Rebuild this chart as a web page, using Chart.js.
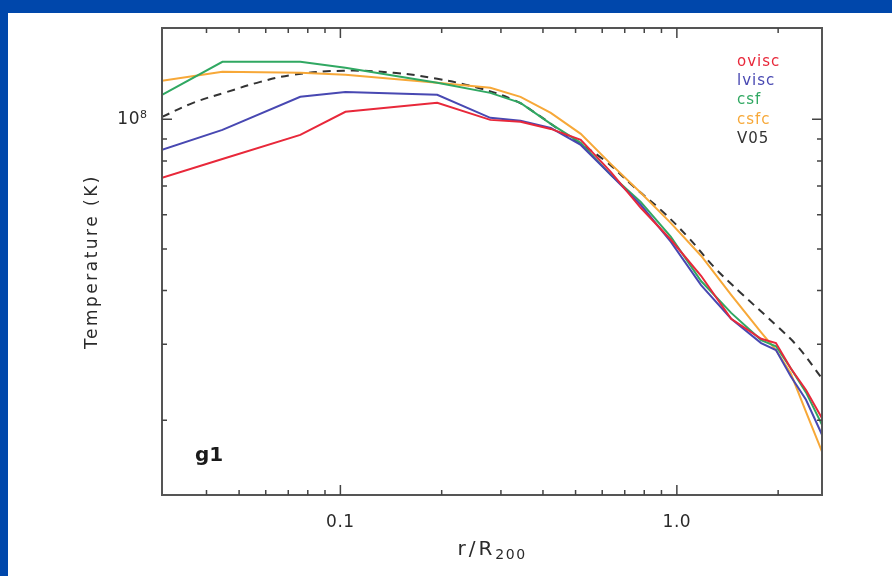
<!DOCTYPE html>
<html>
<head>
<meta charset="utf-8">
<script src="https://cdn.jsdelivr.net/npm/chart.js@4.4.0/dist/chart.umd.min.js"></script>
<style>
  html, body { margin: 0; padding: 0; background: #0047ab; width: 892px; height: 576px; overflow: hidden; }
  #panel { position: absolute; left: 8px; top: 13px; width: 884px; height: 563px; background: #fff; }
</style>
</head>
<body>
<div id="panel"><canvas id="myChart" width="884" height="563"></canvas></div>
<script>
// radius r/R200 shared by the simulation runs
const radius = [0.0295, 0.0446, 0.076, 0.1035, 0.194, 0.279, 0.343, 0.422, 0.518, 0.636,
                0.781, 0.96, 1.18, 1.45, 1.78, 1.97, 2.18, 2.42, 2.7];
// temperatures (K)
const tOvisc = [7.31e7, 8.09e7, 9.20e7, 1.041e8, 1.092e8, 9.97e7, 9.87e7, 9.50e7, 8.96e7, 7.55e7,
                6.23e7, 5.25e7, 4.33e7, 3.44e7, 3.09e7, 3.02e7, 2.64e7, 2.35e7, 2.02e7];
const tLvisc = [8.49e7, 9.45e7, 1.128e8, 1.158e8, 1.140e8, 1.008e8, 9.92e7, 9.55e7, 8.72e7, 7.43e7,
                6.33e7, 5.19e7, 4.12e7, 3.44e7, 3.02e7, 2.91e7, 2.53e7, 2.23e7, 1.85e7];
const tCsf   = [1.140e8, 1.36e8, 1.36e8, 1.318e8, 1.216e8, 1.152e8, 1.092e8, 9.76e7, 8.82e7, 7.43e7,
                6.43e7, 5.33e7, 4.21e7, 3.55e7, 3.07e7, 2.97e7, 2.64e7, 2.32e7, 1.95e7];
const tCsfc  = [1.229e8, 1.290e8, 1.283e8, 1.269e8, 1.216e8, 1.184e8, 1.128e8, 1.035e8, 9.25e7, 7.88e7,
                6.75e7, 5.74e7, 4.82e7, 3.91e7, 3.20e7, 2.91e7, 2.57e7, 2.09e7, 1.69e7];
// V05 fit (dashed)
const rV05 = [0.0295, 0.0365, 0.0461, 0.0578, 0.0724, 0.102, 0.144, 0.194, 0.256, 0.327, 0.368,
              0.461, 0.607, 0.745, 0.896, 1.078, 1.289, 1.549, 2.0, 2.29, 2.7];
const tV05 = [1.013e8, 1.092e8, 1.158e8, 1.222e8, 1.269e8, 1.297e8, 1.283e8, 1.242e8, 1.184e8, 1.110e8, 1.052e8,
              9.30e7, 8.05e7, 6.97e7, 6.16e7, 5.33e7, 4.54e7, 3.95e7, 3.29e7, 2.96e7, 2.50e7];

const seriesNames = ["ovisc", "lvisc", "csf", "csfc", "V05"];
const seriesColors = ["#e8283a", "#4848b2", "#30a862", "#f7a838", "#333333"];

// axis ticks
const xTickValues = [0.04, 0.05, 0.06, 0.07, 0.08, 0.09, 0.1, 0.2, 0.3, 0.4, 0.5, 0.6, 0.7, 0.8, 0.9, 1, 2];
const xLabelValues = [0.1, 1];
const xLabelText = ["0.1", "1.0"];
const yTickValues = [2e7, 3e7, 4e7, 5e7, 6e7, 7e7, 8e7, 9e7, 1e8];
const yLabelValues = [1e8];
const yLabelText = ["10"];
const yLabelExp = ["8"];

const FONT = "'DejaVu Sans', 'Liberation Sans', sans-serif";

function pts(xs, ys) {
  return xs.map((v, i) => ({ x: v, y: ys[i] }));
}

// frame, inward ticks, titles, legend, panel label
const decor = {
  id: "decor",
  beforeDraw(chart) {
    chart.ctx.letterSpacing = "0.5px";
  },
  afterDraw(chart) {
    const { ctx, chartArea: a, scales } = chart;
    const sx = scales.x, sy = scales.y;
    ctx.save();
    ctx.strokeStyle = "#555";
    ctx.lineWidth = 2;
    ctx.strokeRect(a.left, a.top, a.right - a.left, a.bottom - a.top);

    ctx.strokeStyle = "#444";
    ctx.lineWidth = 1.5;
    ctx.beginPath();
    sx.ticks.forEach(t => {
      const p = sx.getPixelForValue(t.value);
      const len = xLabelValues.includes(t.value) ? 10 : 5;
      ctx.moveTo(p, a.bottom); ctx.lineTo(p, a.bottom - len);
      ctx.moveTo(p, a.top); ctx.lineTo(p, a.top + len);
    });
    sy.ticks.forEach(t => {
      const p = sy.getPixelForValue(t.value);
      const len = yLabelValues.includes(t.value) ? 10 : 5;
      ctx.moveTo(a.left, p); ctx.lineTo(a.left + len, p);
      ctx.moveTo(a.right, p); ctx.lineTo(a.right - len, p);
    });
    ctx.stroke();

    ctx.fillStyle = "#2a2a2a";
    ctx.textAlign = "left";
    ctx.textBaseline = "alphabetic";

    // exponent of the 10^n label
    ctx.font = "11px " + FONT;
    ctx.letterSpacing = "0px";
    yLabelValues.forEach((v, i) => {
      ctx.fillText(yLabelExp[i], a.left - 22, sy.getPixelForValue(v) - 1);
    });

    // y title
    ctx.font = "17px " + FONT;
    ctx.letterSpacing = "2.5px";
    ctx.textAlign = "center";
    ctx.textBaseline = "middle";
    ctx.save();
    ctx.translate(85, (a.top + a.bottom) / 2);
    ctx.rotate(-Math.PI / 2);
    ctx.fillText("Temperature (K)", 0, 0);
    ctx.restore();

    // x title r/R200
    ctx.textAlign = "left";
    ctx.textBaseline = "alphabetic";
    ctx.font = "20px " + FONT;
    ctx.letterSpacing = "3px";
    const w1 = ctx.measureText("r/R").width;
    ctx.font = "14px " + FONT;
    ctx.letterSpacing = "1.5px";
    const w2 = ctx.measureText("200").width;
    const x0 = (a.left + a.right) / 2 - (w1 + w2) / 2;
    ctx.font = "20px " + FONT;
    ctx.letterSpacing = "3px";
    ctx.fillText("r/R", x0, 542);
    ctx.font = "14px " + FONT;
    ctx.letterSpacing = "1.5px";
    ctx.fillText("200", x0 + w1, 546);

    // legend as coloured text
    ctx.font = "15px " + FONT;
    ctx.letterSpacing = "1px";
    ctx.textBaseline = "middle";
    chart.data.datasets.forEach((ds, i) => {
      ctx.fillStyle = ds.borderColor;
      ctx.fillText(ds.label, a.right - 85, a.top + 34 + i * 19.3);
    });

    // panel label
    ctx.fillStyle = "#1a1a1a";
    ctx.font = "bold 20px " + FONT;
    ctx.letterSpacing = "0px";
    ctx.textBaseline = "alphabetic";
    ctx.fillText("g1", a.left + 33, a.bottom - 34);
    ctx.restore();
  }
};

let config = {
  type: "line",
  data: {
    datasets: [
      { label: seriesNames[0], data: pts(radius, tOvisc), borderColor: seriesColors[0], borderWidth: 2 },
      { label: seriesNames[1], data: pts(radius, tLvisc), borderColor: seriesColors[1], borderWidth: 2 },
      { label: seriesNames[2], data: pts(radius, tCsf), borderColor: seriesColors[2], borderWidth: 2 },
      { label: seriesNames[3], data: pts(radius, tCsfc), borderColor: seriesColors[3], borderWidth: 2 },
      { label: seriesNames[4], data: pts(rV05, tV05), borderColor: seriesColors[4], borderWidth: 2,
        borderDash: [8, 6], tension: 0.4 }
    ]
  },
  options: {
    responsive: false,
    animation: false,
    elements: { point: { radius: 0 }, line: { tension: 0 } },
    layout: { padding: { top: 15, right: 70, left: 0, bottom: 0 } },
    plugins: { legend: { display: false }, tooltip: { enabled: false } },
    scales: {
      x: {
        type: "logarithmic",
        min: 0.0295,
        max: 2.7,
        grid: { display: false },
        border: { display: false },
        afterBuildTicks: s => { s.ticks = xTickValues.map(v => ({ value: v })); },
        afterFit: s => { s.height = 81; s.paddingLeft = 0; s.paddingRight = 0; },
        ticks: {
          autoSkip: false,
          maxRotation: 0,
          padding: 9,
          color: "#2a2a2a",
          font: { size: 17, family: FONT },
          callback: v => {
            const i = xLabelValues.indexOf(v);
            return i >= 0 ? xLabelText[i] : "";
          }
        }
      },
      y: {
        type: "logarithmic",
        min: 1.34e7,
        max: 1.63e8,
        grid: { display: false },
        border: { display: false },
        afterBuildTicks: s => { s.ticks = yTickValues.map(v => ({ value: v })); },
        afterFit: s => { s.width = 154; s.paddingTop = 0; s.paddingBottom = 0; },
        ticks: {
          autoSkip: false,
          padding: 14,
          color: "#2a2a2a",
          font: { size: 17, family: FONT },
          callback: v => {
            const i = yLabelValues.indexOf(v);
            return i >= 0 ? yLabelText[i] : "";
          }
        }
      }
    }
  },
  plugins: [decor]
};

window.addEventListener("load", function() {
  let ctx = document.getElementById("myChart").getContext("2d");
  myChart = new Chart(ctx, config);
}, false);
</script>
</body>
</html>
